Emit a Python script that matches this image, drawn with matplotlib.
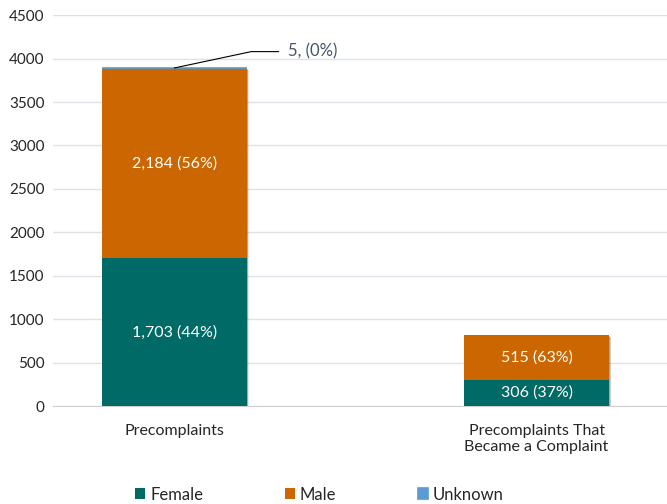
import numpy as np
import matplotlib.pyplot as plt

# data
categories = ["Precomplaints", "Precomplaints That\nBecame a Complaint"]
female = [1703, 306]
male = [2184, 515]
unknown = [5, 0]
female_labels = ["1,703 (44%)", "306 (37%)"]
male_labels = ["2,184 (56%)", "515 (63%)"]
unknown_label = "5, (0%)"

colors = {"Female": "#006a66", "Male": "#cc6600", "Unknown": "#5b9bd5"}

plt.rcParams['font.family'] = ['Lato', 'DejaVu Sans']

fig = plt.figure(figsize=(6.67, 5.04), dpi=100)
ax = fig.add_axes([0.0795, 0.194, 0.9205, 0.776])

x = np.arange(len(categories))
w = 0.4
totals = np.array(female) + np.array(male) + np.array(unknown)

# soft drop shadow behind each whole stack
for k, a in enumerate([0.12, 0.2, 0.3]):
    off = 0.006 - k * 0.0015
    ax.bar(x + off, totals, w, bottom=-25 + k * 6, color="#555555", alpha=a, zorder=2, linewidth=0)

b1 = ax.bar(x, female, w, color=colors["Female"], label="Female", zorder=3, linewidth=0)
b2 = ax.bar(x, male, w, bottom=female, color=colors["Male"], label="Male", zorder=3, linewidth=0)
bottom2 = np.array(female) + np.array(male)
b3 = ax.bar(x, unknown, w, bottom=bottom2, color=colors["Unknown"], label="Unknown", zorder=3,
            edgecolor=colors["Unknown"], linewidth=[1.2 if u > 0 else 0 for u in unknown])

for i in range(len(categories)):
    ax.text(x[i], female[i] / 2, female_labels[i], ha="center", va="center", color="white", fontsize=11.5, zorder=4)
    ax.text(x[i], female[i] + male[i] / 2, male_labels[i], ha="center", va="center", color="white", fontsize=11.5, zorder=4)

# callout for unknown
ax.annotate(unknown_label, xy=(x[0], totals[0]), xytext=(x[0] + 0.315, 4080),
            color="#44546a", fontsize=12, va="center", ha="left",
            arrowprops=dict(arrowstyle="-", color="black", lw=0.8,
                            connectionstyle="angle,angleA=0,angleB=12,rad=0",
                            shrinkA=5, shrinkB=0))

ax.set_ylim(0, 4500)
ax.set_yticks(np.arange(0, 4501, 500))
ax.set_xlim(-0.335, 1.36)
ax.set_xticks(x)
ax.set_xticklabels(categories, fontsize=11.5)
ax.grid(axis="y", color="#dde1e8", lw=1, zorder=0)
for s in ax.spines.values():
    s.set_visible(False)
ax.spines["bottom"].set_visible(True)
ax.spines["bottom"].set_color("#d0d0d0")
ax.tick_params(axis="both", length=0, colors="#262626")
ax.tick_params(axis="y", labelsize=11, pad=6)
ax.tick_params(axis="x", pad=13)

handles = [b1, b2, b3]
leg = fig.legend(handles, ["Female", "Male", "Unknown"], loc="lower left", bbox_to_anchor=(0.18, -0.027),
                 ncol=3, frameon=False, fontsize=12, handlelength=0.6, handleheight=0.6,
                 handletextpad=0.3, columnspacing=4.9)
for t in leg.get_texts():
    t.set_color("#262626")

fig.savefig("out.png", dpi=100)
